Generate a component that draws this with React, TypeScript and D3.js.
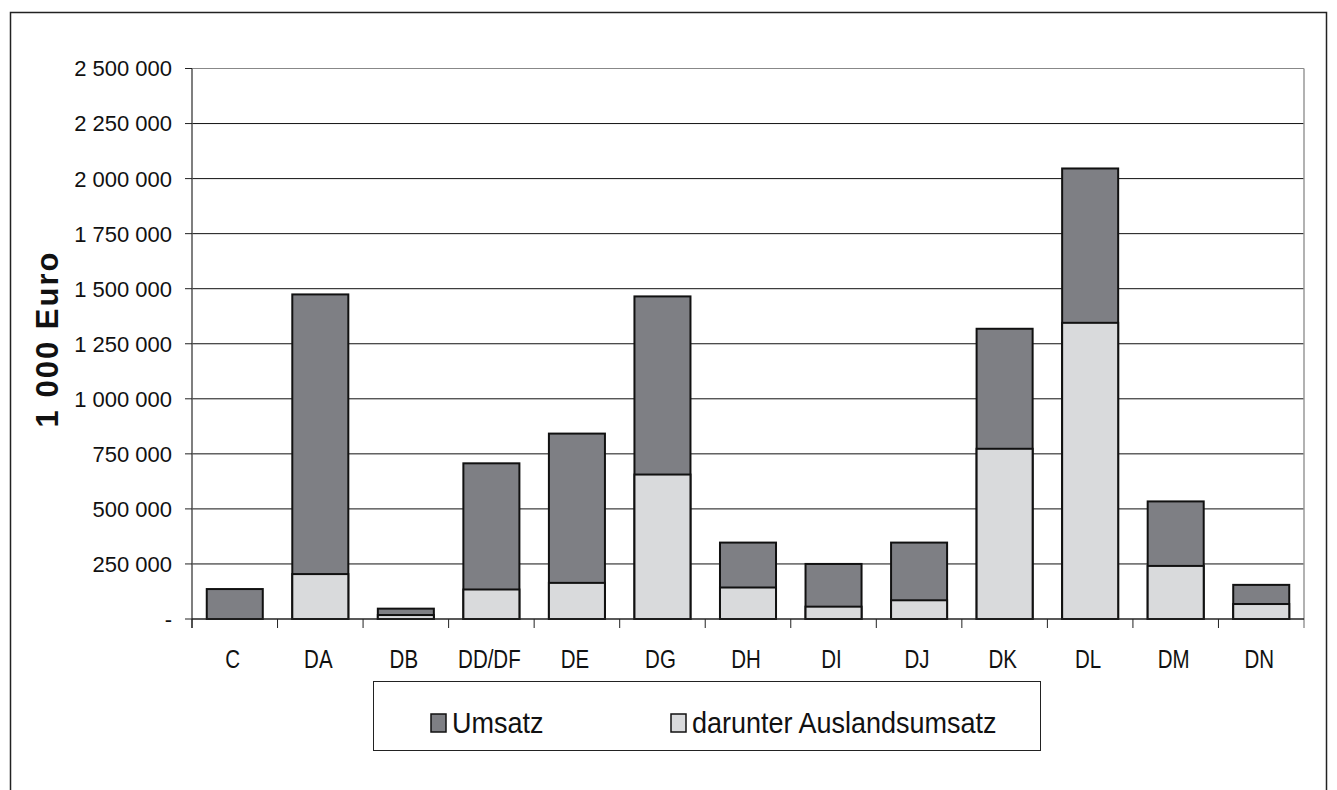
import React from "react";
import * as d3 from "d3";

const categories = ["C", "DA", "DB", "DD/DF", "DE", "DG", "DH", "DI", "DJ", "DK", "DL", "DM", "DN"];
const umsatz = [136000, 1474000, 47000, 707000, 842000, 1465000, 347000, 250000, 347000, 1318000, 2046000, 534000, 155000];
const auslandsumsatz = [0, 204000, 18000, 134000, 164000, 656000, 143000, 56000, 85000, 773000, 1345000, 241000, 68000];
const yTicks = [0, 250000, 500000, 750000, 1000000, 1250000, 1500000, 1750000, 2000000, 2250000, 2500000];

const width = 1337;
const height = 790;
const left = 192;
const right = 1304;
const top = 68.5;
const bottom = 619;

const darkFill = "#7e7f84";
const lightFill = "#d9dadc";
const font = "'Liberation Sans', Arial, sans-serif";

const fmt = d3.formatLocale({ thousands: " ", grouping: [3], decimal: ",", currency: ["", " €"] }).format(",d");

const App = () => {
  const x = d3.scaleBand().domain(categories).range([left, right]).paddingInner(0.345).paddingOuter(0.1725);
  const xEdge = d3.scaleBand().domain(categories).range([left, right]);
  const y = d3.scaleLinear().domain([0, 2500000]).range([bottom, top]);

  return (
    <svg width={width} height={height} style={{ display: "block", position: "absolute", left: 0, top: 0 }}>
      <rect x={0} y={0} width={width} height={height} fill="#fff" />
      <rect x={10.5} y={12.5} width={1316} height={800} fill="none" stroke="#222" strokeWidth={1.5} />

      {/* gridlines */}
      {yTicks.slice(1).map((t) => (
        <line key={t} x1={left} x2={right} y1={y(t)} y2={y(t)} stroke={t === 2500000 ? "#888" : "#111"} strokeWidth={1} />
      ))}

      {/* y axis */}
      <line x1={left} x2={left} y1={top} y2={bottom + 9} stroke="#555" strokeWidth={1.5} />
      <line x1={right} x2={right} y1={top} y2={bottom + 9} stroke="#999" strokeWidth={1.5} />
      {yTicks.map((t) => (
        <g key={t}>
          <line x1={left - 7} x2={left} y1={y(t)} y2={y(t)} stroke="#222" />
          <text x={172} y={y(t)} dy="0.36em" textAnchor="end" fontFamily={font} fontSize={22} fill="#111">
            {t === 0 ? "-" : fmt(t)}
          </text>
        </g>
      ))}
      <text
        transform={`translate(58,339) rotate(-90)`}
        textAnchor="middle"
        fontFamily={font}
        fontSize={31}
        fontWeight="bold"
        letterSpacing={2}
        fill="#111"
      >
        1 000 Euro
      </text>

      {/* bars */}
      {categories.map((c, i) => (
        <g key={c}>
          <rect x={x(c)} y={y(umsatz[i])} width={x.bandwidth()} height={y(0) - y(umsatz[i])} fill={darkFill} stroke="#111" strokeWidth={2} />
          {auslandsumsatz[i] > 0 && (
            <rect x={x(c)} y={y(auslandsumsatz[i])} width={x.bandwidth()} height={y(0) - y(auslandsumsatz[i])} fill={lightFill} stroke="#111" strokeWidth={2} />
          )}
        </g>
      ))}

      {/* x axis */}
      <line x1={left} x2={right} y1={bottom} y2={bottom} stroke="#222" strokeWidth={1.5} />
      {categories.map((c) => (
        <line key={c} x1={xEdge(c)} x2={xEdge(c)} y1={bottom} y2={bottom + 9} stroke="#222" />
      ))}
      {categories.map((c) => (
        <text
          key={c}
          transform={`translate(${xEdge(c)! + xEdge.bandwidth() / 2 - 2},668) scale(1,1.22)`}
          textAnchor="middle"
          fontFamily={font}
          fontSize={20.5}
          fill="#111"
        >
          {c}
        </text>
      ))}

      {/* legend */}
      <rect x={373.5} y={681.5} width={667} height={69} fill="#fff" stroke="#222" strokeWidth={1} />
      <rect x={431} y={714} width={15} height={18} fill={darkFill} stroke="#111" strokeWidth={1.5} />
      <text transform="translate(452,733) scale(1,1.1)" fontFamily={font} fontSize={27} fill="#111">Umsatz</text>
      <rect x={671} y={714} width={15} height={18} fill={lightFill} stroke="#111" strokeWidth={1.5} />
      <text transform="translate(692,733) scale(1,1.1)" fontFamily={font} fontSize={27} fill="#111">darunter Auslandsumsatz</text>
    </svg>
  );
};

export default App;
